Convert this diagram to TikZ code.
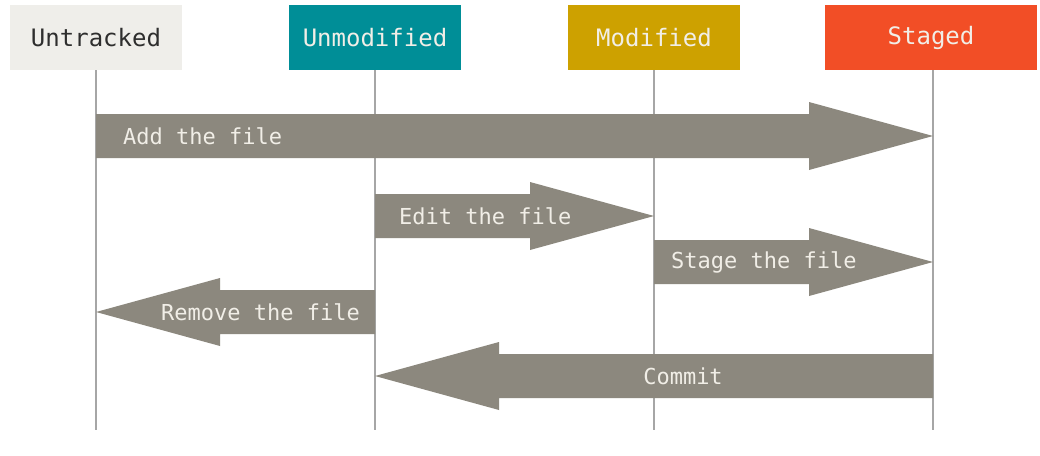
\documentclass[tikz,border=0pt]{standalone}
\usepackage{fontspec}
\setmonofont{DejaVu Sans Mono}
\usetikzlibrary{positioning,calc}
\definecolor{untrackedbg}{HTML}{EFEEEA}
\definecolor{unmodifiedbg}{HTML}{008E97}
\definecolor{modifiedbg}{HTML}{CDA100}
\definecolor{stagedbg}{HTML}{F24E26}
\definecolor{ink}{HTML}{2E2E2E}
\definecolor{paper}{HTML}{F1EEE7}
\definecolor{lane}{HTML}{A6A6A6}
\definecolor{flowfill}{HTML}{8C887E}

\tikzset{
  state/.style={minimum width=172pt,minimum height=65pt,inner sep=0pt,text=paper,
    font=\ttfamily\fontsize{24}{28}\selectfont},
  lanerule/.style={draw=lane,line width=1.5pt},
  flow/.style={fill=flowfill},
  flowlabel/.style={inner sep=0pt,text=paper,font=\ttfamily\fontsize{22}{26}\selectfont}
}

% fat arrow from #1 to #2 (same height)
\newcommand\fatarrow[2]{%
  \fill[flow] let \p1=(#1), \p2=(#2), \n1={sign(\x2-\x1)} in
    (\x1,\y1+22pt) -- ({\x2-\n1*124pt},\y1+22pt) -- ({\x2-\n1*124pt},\y1+34pt)
    -- (\x2,\y2) -- ({\x2-\n1*124pt},\y1-34pt) -- ({\x2-\n1*124pt},\y1-22pt)
    -- (\x1,\y1-22pt) -- cycle;}

\begin{document}
\begin{tikzpicture}[x=1pt,y=-1pt]
\useasboundingbox[fill=white] (0,0) rectangle (1040,455);

% states
\node[state,fill=untrackedbg,text=ink] (untracked) at (96,37.5) {Untracked};
\node[state,fill=unmodifiedbg] (unmodified) at (375,37.5) {Unmodified};
\node[state,fill=modifiedbg] (modified) at (654,37.5) {Modified};
\node[state,fill=stagedbg,minimum width=212pt] (staged) at (931,37.5) {Staged};

% lanes
\foreach \s/\x in {untracked/96,unmodified/375,modified/654,staged/933}{
  \coordinate (\s-top) at (\x,70);
  \coordinate (\s-end) at (\x,430);
  \draw[lanerule] (\s-top) -- (\s-end);
}

% transitions
\coordinate (add-a) at (untracked-top |- 0,136);
\coordinate (add-b) at (staged-top |- 0,136);
\coordinate (edit-a) at (unmodified-top |- 0,216);
\coordinate (edit-b) at (modified-top |- 0,216);
\coordinate (stage-a) at (modified-top |- 0,262);
\coordinate (stage-b) at (staged-top |- 0,262);
\coordinate (remove-a) at (unmodified-top |- 0,312);
\coordinate (remove-b) at (untracked-top |- 0,312);
\coordinate (commit-a) at (staged-top |- 0,376);
\coordinate (commit-b) at (unmodified-top |- 0,376);

\fatarrow{add-a}{add-b}
\fatarrow{edit-a}{edit-b}
\fatarrow{stage-a}{stage-b}
\fatarrow{remove-a}{remove-b}
\fatarrow{commit-a}{commit-b}

\node[flowlabel,anchor=west] (add) at ($(add-a)+(27,0)$) {Add the file};
\node[flowlabel,anchor=west] (edit) at ($(edit-a)+(24,0)$) {Edit the file};
\node[flowlabel,anchor=west] (stage) at ($(stage-a)+(17,0)$) {Stage the file};
\node[flowlabel,anchor=east] (remove) at ($(remove-a)+(-15,0)$) {Remove the file};
\node[flowlabel] (commit) at (683,376) {Commit};
\end{tikzpicture}
\end{document}
